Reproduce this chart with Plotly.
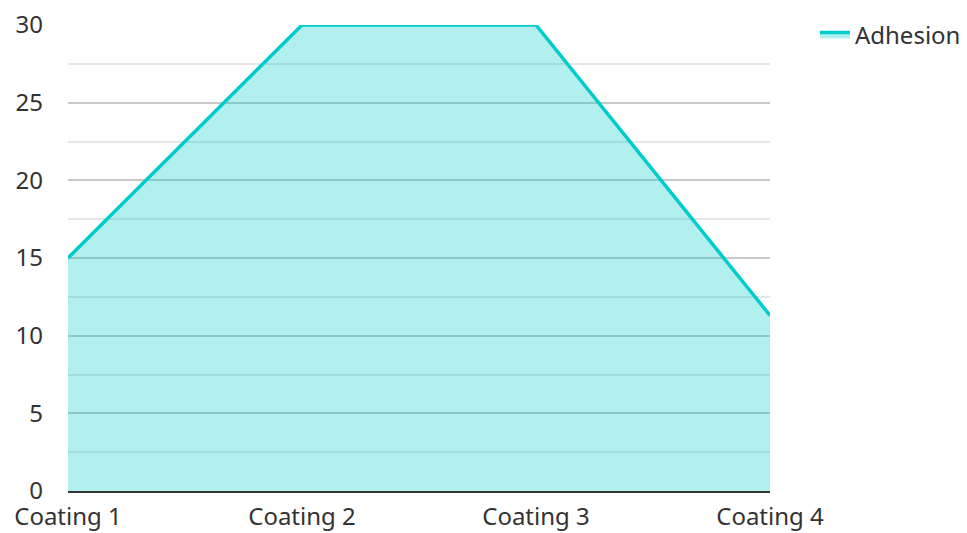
import plotly.graph_objects as go

categories = ["Coating 1", "Coating 2", "Coating 3", "Coating 4"]
adhesion = [15, 30, 30, 11.3]
y_ticks = [0, 5, 10, 15, 20, 25, 30]

fig = go.Figure()
fig.add_trace(go.Scatter(
    x=categories,
    y=adhesion,
    name="Adhesion",
    mode="lines",
    fill="tozeroy",
    line=dict(color="#00CCCC", width=3.5),
    fillcolor="rgba(0,204,204,0.3)",
))

fig.update_layout(
    width=967,
    height=533,
    margin=dict(l=68, r=197, t=25, b=42, autoexpand=False),
    paper_bgcolor="white",
    plot_bgcolor="white",
    font=dict(family="Noto Sans", size=24, color="#333333"),
    showlegend=True,
    legend=dict(
        x=1.064, y=1.027, xanchor="left", yanchor="top",
        font=dict(size=24, color="#333333"),
        bgcolor="rgba(0,0,0,0)",
    ),
)

fig.update_xaxes(
    type="category",
    range=[0, 3],
    showgrid=False,
    showline=True,
    linecolor="#333333",
    linewidth=2,
    ticks="",
    ticklabelstandoff=3,
)

fig.update_yaxes(
    range=[0, 30],
    tickvals=y_ticks,
    showgrid=True,
    gridcolor="#C8C8C8",
    gridwidth=1.5,
    zeroline=False,
    showline=False,
    ticks="",
    ticklabelstandoff=24,
    minor=dict(dtick=2.5, showgrid=True, gridcolor="#E6E6E6", gridwidth=1.5),
)

fig.write_html("out.html")
